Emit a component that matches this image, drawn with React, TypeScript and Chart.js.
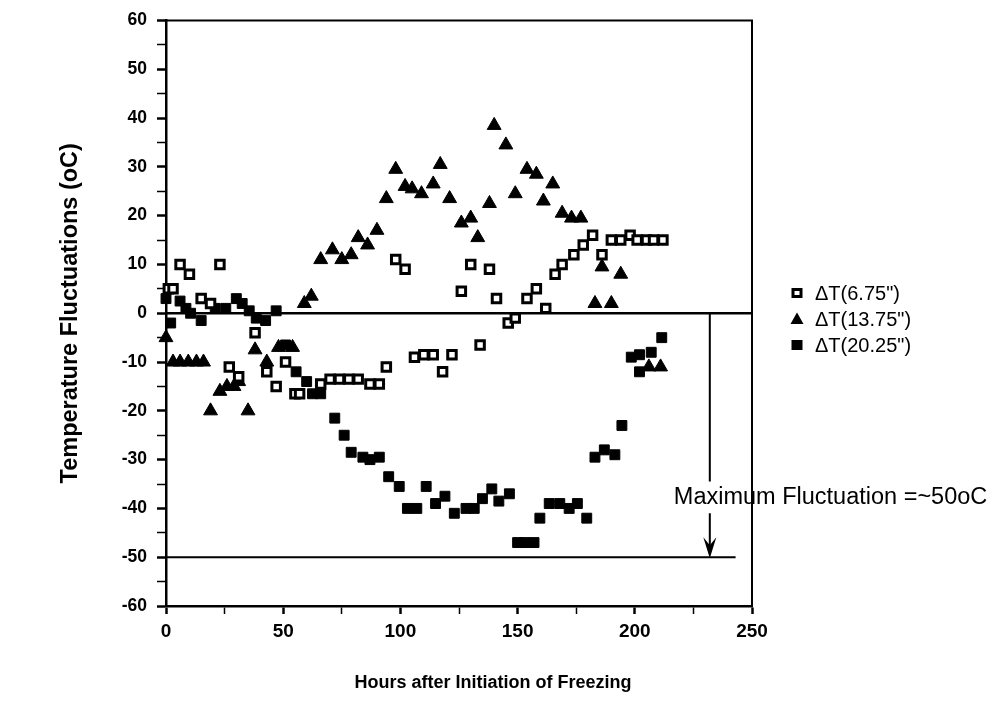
import React, { useEffect, useRef } from 'react';
import { Chart, registerables } from 'chart.js';

Chart.register(...registerables);

// ΔT(6.75") – open squares
const openX = [1, 3, 6, 10, 15, 19, 23, 27, 31, 38, 43, 47, 51, 55, 57, 66, 70, 74, 78, 82, 87, 91, 94, 98, 102, 106, 110, 114, 118, 122, 126, 130, 134, 138, 141, 146, 149, 154, 158, 162, 166, 169, 174, 178, 182, 186, 190, 194, 198, 201, 205, 208, 212];
const openY = [5, 5, 10, 8, 3, 2, 10, -11, -13, -4, -12, -15, -10, -16.5, -16.5, -14.5, -13.5, -13.5, -13.5, -13.5, -14.5, -14.5, -11, 11, 9, -9, -8.5, -8.5, -12, -8.5, 4.5, 10, -6.5, 9, 3, -2, -1, 3, 5, 1, 8, 10, 12, 14, 16, 12, 15, 15, 16, 15, 15, 15, 15];

// ΔT(13.75") – filled triangles
const triX = [0, 3, 6, 9.5, 13, 16, 19, 23, 26, 29, 31, 35, 38, 43, 48, 54, 59, 62, 66, 71, 75, 79, 82, 86, 90, 94, 98, 102, 105, 109, 114, 117, 121, 126, 130, 133, 138, 140, 145, 149, 154, 158, 161, 165, 169, 173, 177, 183, 186, 190, 194, 206, 211];
const triY = [-5, -10, -10, -10, -10, -10, -20, -16, -15, -15, -14, -20, -7.5, -10, -7, -7, 2, 3.5, 11, 13, 11, 12, 15.5, 14, 17, 23.5, 29.5, 26, 25.5, 24.5, 26.5, 30.5, 23.5, 18.5, 19.5, 15.5, 22.5, 38.5, 34.5, 24.5, 29.5, 28.5, 23, 26.5, 20.5, 19.5, 19.5, 2, 9.5, 2, 8, -11, -11];

// ΔT(20.25") – filled squares
const fillX = [0, 2, 6, 8.5, 10.5, 15, 21, 25.5, 30, 32.5, 35.5, 38.5, 42.5, 47, 51, 55.5, 60, 62.5, 66, 72, 76, 79, 84, 87, 91, 95, 99.5, 103, 107, 111, 115, 119, 123, 128, 131.5, 135, 139, 142, 146.5, 150, 153, 157, 159.5, 163.5, 168, 172, 175.5, 179.5, 183, 187, 191.5, 194.5, 198.5, 202, 202, 207, 211.5];
const fillY = [3, -2, 2.5, 1, 0, -1.5, 1, 1, 3, 2, 0.5, -1, -1.5, 0.5, -6.5, -12, -14, -16.5, -16.5, -21.5, -25, -28.5, -29.5, -30, -29.5, -33.5, -35.5, -40, -40, -35.5, -39, -37.5, -41, -40, -40, -38, -36, -38.5, -37, -47, -47, -47, -42, -39, -39, -40, -39, -42, -29.5, -28, -29, -23, -9, -8.5, -12, -8, -5];

const seriesLabels = ['ΔT(6.75")', 'ΔT(13.75")', 'ΔT(20.25")'];
const yLabel = 'Temperature Fluctuations (oC)';
const xLabel = 'Hours after Initiation of Freezing';
const noteText = 'Maximum Fluctuation =~50oC';
const xMin = 0, xMax = 250, xStep = 25, xLabelStep = 50;
const yMin = -60, yMax = 60, yStep = 5, yLabelStep = 10;
const maxLineY = -50;
const arrowX = 232;
const maxLineEndX = 243;

const FONT = '"Liberation Sans", Arial, Helvetica, sans-serif';

const pts = (xs: number[], ys: number[]) => xs.map((x, i) => ({ x, y: ys[i] }));

const decorPlugin = {
  id: 'decor',
  beforeDatasetsDraw(chart: any) {
    const { ctx, chartArea } = chart;
    const xs = chart.scales.x;
    const ys = chart.scales.y;
    ctx.save();
    ctx.strokeStyle = '#000';
    ctx.fillStyle = '#000';
    ctx.lineWidth = 2;
    ctx.beginPath();
    ctx.moveTo(chartArea.left, chartArea.top);
    ctx.lineTo(chartArea.right, chartArea.top);
    ctx.lineTo(chartArea.right, chartArea.bottom);
    ctx.stroke();
    const y0 = ys.getPixelForValue(0);
    ctx.lineWidth = 2.5;
    ctx.beginPath();
    ctx.moveTo(chartArea.left, y0);
    ctx.lineTo(chartArea.right, y0);
    ctx.stroke();
    const y50 = ys.getPixelForValue(maxLineY);
    ctx.lineWidth = 2;
    ctx.beginPath();
    ctx.moveTo(chartArea.left, y50);
    ctx.lineTo(xs.getPixelForValue(maxLineEndX), y50);
    ctx.stroke();
    const ax = xs.getPixelForValue(arrowX);
    ctx.lineWidth = 2;
    ctx.beginPath();
    ctx.moveTo(ax, y0);
    ctx.lineTo(ax, ys.getPixelForValue(-34.5));
    ctx.moveTo(ax, ys.getPixelForValue(-41));
    ctx.lineTo(ax, y50 - 10);
    ctx.stroke();
    ctx.beginPath();
    ctx.moveTo(ax, y50 + 1);
    ctx.lineTo(ax - 6.5, y50 - 20);
    ctx.lineTo(ax, y50 - 12);
    ctx.lineTo(ax + 6.5, y50 - 20);
    ctx.closePath();
    ctx.fill();
    ctx.restore();
  },
  afterDraw(chart: any) {
    const { ctx } = chart;
    const ys = chart.scales.y;
    const xs = chart.scales.x;
    ctx.save();
    ctx.fillStyle = '#000';
    ctx.strokeStyle = '#000';
    // x-axis title (offset to the right as in the original figure)
    ctx.font = `bold 18px ${FONT}`;
    ctx.textAlign = 'center';
    ctx.textBaseline = 'middle';
    ctx.fillText(xLabel, 493, 683);
    // note text
    ctx.font = `23.5px ${FONT}`;
    ctx.textAlign = 'left';
    ctx.fillText(noteText, xs.getPixelForValue(arrowX) - 36, ys.getPixelForValue(-37.8));
    // legend
    const lx = 797;
    const tx = 815;
    const rows = [293, 319, 345];
    ctx.font = `20px ${FONT}`;
    ctx.lineWidth = 3;
    ctx.strokeRect(lx - 4, rows[0] - 3.5, 8, 7);
    ctx.beginPath();
    ctx.moveTo(lx, rows[1] - 6.5);
    ctx.lineTo(lx + 6.5, rows[1] + 5);
    ctx.lineTo(lx - 6.5, rows[1] + 5);
    ctx.closePath();
    ctx.fill();
    ctx.fillRect(lx - 5.5, rows[2] - 5, 11, 10);
    seriesLabels.forEach((t, i) => ctx.fillText(t, tx, rows[i] + 1));
    ctx.restore();
  },
};

export default function App() {
  const ref = useRef<HTMLCanvasElement | null>(null);
  useEffect(() => {
    if (!ref.current) return;
    const chart = new Chart(ref.current, {
      type: 'scatter',
      data: {
        datasets: [
          {
            label: seriesLabels[0],
            data: pts(openX, openY),
            pointStyle: 'rect',
            pointRadius: 6,
            pointBorderWidth: 3,
            backgroundColor: '#fff',
            borderColor: '#000',
            clip: false,
          },
          {
            label: seriesLabels[1],
            data: pts(triX, triY),
            pointStyle: 'triangle',
            pointRadius: 8,
            pointBorderWidth: 1,
            backgroundColor: '#000',
            borderColor: '#000',
            clip: false,
          },
          {
            label: seriesLabels[2],
            data: pts(fillX, fillY),
            pointStyle: 'rect',
            pointRadius: 7,
            pointBorderWidth: 1,
            backgroundColor: '#000',
            borderColor: '#000',
            clip: false,
          },
        ],
      },
      options: {
        animation: false,
        responsive: false,
        events: [],
        layout: { padding: { left: 0, top: 18, right: 244, bottom: 0 } },
        plugins: { legend: { display: false }, tooltip: { enabled: false } },
        scales: {
          x: {
            type: 'linear',
            min: xMin,
            max: xMax,
            afterFit: (s: any) => { s.height = 114; },
            ticks: {
              stepSize: xStep,
              autoSkip: false,
              maxRotation: 0,
              padding: 6,
              color: '#000',
              font: { family: FONT, size: 19, weight: 'bold' },
              callback: (v: any) => (Number(v) % xLabelStep === 0 ? String(v) : ''),
            },
            grid: {
              display: true,
              drawOnChartArea: false,
              drawTicks: true,
              tickLength: 8,
              tickColor: '#000',
              tickWidth: (c: any) => (c.tick && c.tick.value % xLabelStep === 0 ? 2.5 : 1.5),
            },
            border: { display: true, color: '#000', width: 2.5 },
            title: { display: false, text: xLabel },
          },
          y: {
            type: 'linear',
            min: yMin,
            max: yMax,
            afterFit: (s: any) => { s.width = 166; },
            ticks: {
              stepSize: yStep,
              autoSkip: false,
              padding: 10,
              color: '#000',
              font: { family: FONT, size: 17.5, weight: 'bold' },
              callback: (v: any) => (Number(v) % yLabelStep === 0 ? String(v) : ''),
            },
            grid: {
              display: true,
              drawOnChartArea: false,
              drawTicks: true,
              tickLength: 9,
              tickColor: '#000',
              tickWidth: (c: any) => (c.tick && c.tick.value % yLabelStep === 0 ? 2.5 : 1.5),
            },
            border: { display: true, color: '#000', width: 2.5 },
            title: {
              display: true,
              text: yLabel,
              color: '#000',
              font: { family: FONT, size: 23.5, weight: 'bold' },
              padding: { top: 56, bottom: 0 },
            },
          },
        },
      },
      plugins: [decorPlugin],
    });
    return () => chart.destroy();
  }, []);
  return (
    <div style={{ position: 'absolute', left: 0, top: 0, width: 996, height: 720, background: '#fff' }}>
      <canvas ref={ref} width={996} height={720} />
    </div>
  );
}
